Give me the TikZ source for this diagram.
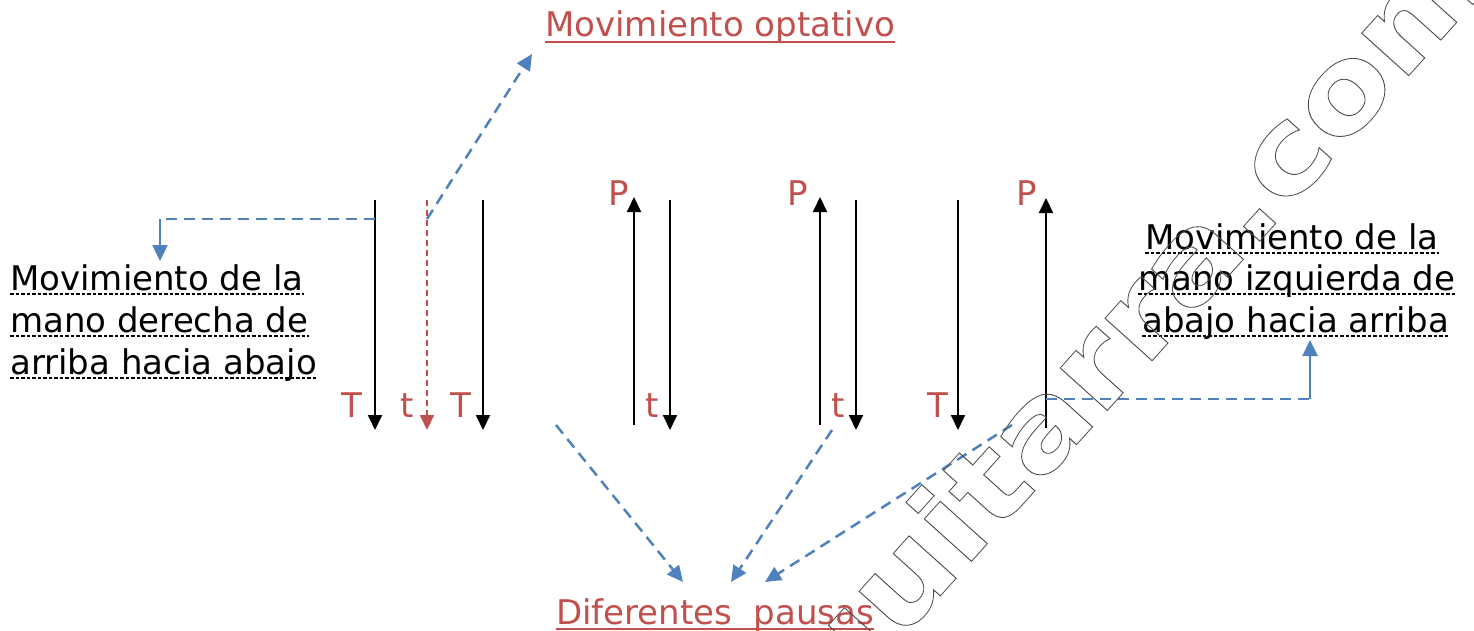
\documentclass[tikz,border=0pt]{standalone}
\usepackage{fontspec}
\setmainfont{DejaVu Sans}
\usetikzlibrary{arrows.meta,calc}
\definecolor{ored}{HTML}{C0504D}
\definecolor{oblue}{HTML}{4F81BD}
\begin{document}
\begin{tikzpicture}[x=1pt,y=-1pt,
  txt/.style={inner sep=0pt, font=\fontsize{34}{40}\selectfont},
  lbl/.style={txt, text=ored, anchor=base east},
  karrow/.style={line width=2pt, -{Triangle[width=14pt,length=15pt]}},
  rarrow/.style={ored, line width=2pt, dash pattern=on 6pt off 4pt, -{Triangle[width=14pt,length=15pt]}},
  bdash/.style={oblue, line width=2.5pt, dash pattern=on 11pt off 7pt},
  bsolid/.style={oblue, line width=2.5pt},
  btip/.style={-{Triangle[width=15pt,length=16pt]}},
  dotul/.style={line width=2pt, dash pattern=on 3.5pt off 2pt},
  redul/.style={ored, line width=2pt}]
\useasboundingbox (0,0) rectangle (1474,631);

% ---- coordinates of the strokes
\coordinate (d1t) at (375,200); \coordinate (d1b) at (375,430);
\coordinate (r1t) at (427,200); \coordinate (r1b) at (427,430);
\coordinate (d2t) at (483,200); \coordinate (d2b) at (483,430);
\coordinate (u1b) at (634,425); \coordinate (u1t) at (634,197);
\coordinate (d3t) at (670,200); \coordinate (d3b) at (670,430);
\coordinate (u2b) at (820,425); \coordinate (u2t) at (820,197);
\coordinate (d4t) at (856,200); \coordinate (d4b) at (856,430);
\coordinate (d5t) at (958,200); \coordinate (d5b) at (958,430);
\coordinate (u3b) at (1046,428); \coordinate (u3t) at (1046,198);

\draw[karrow] (d1t) -- (d1b);
\draw[rarrow] (r1t) -- (r1b);
\draw[karrow] (d2t) -- (d2b);
\draw[karrow] (u1b) -- (u1t);
\draw[karrow] (d3t) -- (d3b);
\draw[karrow] (u2b) -- (u2t);
\draw[karrow] (d4t) -- (d4b);
\draw[karrow] (d5t) -- (d5b);
\draw[karrow] (u3b) -- (u3t);

% ---- stroke labels
\node[lbl] (lT1) at (362,417) {T};
\node[lbl] (lt1) at (414,417) {t};
\node[lbl] (lT2) at (471,417) {T};
\node[lbl] (lP1) at (629,205) {P};
\node[lbl] (lt2) at (659,417) {t};
\node[lbl] (lP2) at (808,205) {P};
\node[lbl] (lt3) at (845,417) {t};
\node[lbl] (lT3) at (948,417) {T};
\node[lbl] (lP3) at (1037,205) {P};

% ---- left text
\node[txt, anchor=base west] (L1) at (10,290) {Movimiento de la};
\node[txt, anchor=base west] (L2) at (10,332) {mano derecha de};
\node[txt, anchor=base west] (L3) at (10,374) {arriba hacia abajo};
\foreach \n in {L1,L2,L3}
  \draw[dotul] ($(\n.base west)+(0,3.5)$) -- ($(\n.base east)+(0,3.5)$);

% ---- right text
\node[txt, anchor=base west] (R1) at (1145,249) {Movimiento de la};
\node[txt, anchor=base west] (R2) at (1138,290) {mano izquierda de};
\node[txt, anchor=base west] (R3) at (1142,332) {abajo hacia arriba};
\foreach \n in {R1,R2,R3}
  \draw[dotul] ($(\n.base west)+(0,3.5)$) -- ($(\n.base east)+(0,3.5)$);

% ---- red titles
\node[txt, text=ored, anchor=base west] (opt) at (545,37) {Movimiento optativo};
\draw[redul] ($(opt.base west)+(0,5)$) -- ($(opt.base east)+(0,5)$);
\node[txt, text=ored, anchor=base west] (pau) at (556,624) {Diferentes\ \ pausas};
\draw[redul] ($(pau.base west)+(0,5)$) -- ($(pau.base east)+(0,5)$);

% ---- blue connectors
\coordinate (cL0) at (375,219);
\coordinate (cL1) at (160,219);
\coordinate (cL2) at (160,261);
\draw[bdash] (cL0) -- (cL1);
\draw[bsolid, btip] (cL1) -- (cL2);

\coordinate (cO0) at (427,219);
\coordinate (cO1) at (532,54);
\draw[bdash, btip] (cO0) -- (cO1);

\coordinate (cP1s) at (556,425); \coordinate (cP1e) at (683,582);
\coordinate (cP2s) at (832,430); \coordinate (cP2e) at (731,582);
\coordinate (cP3s) at (1012,425); \coordinate (cP3e) at (765,582);
\draw[bdash, btip] (cP1s) -- (cP1e);
\draw[bdash, btip] (cP2s) -- (cP2e);
\draw[bdash, btip] (cP3s) -- (cP3e);

\coordinate (cR0) at (1046,399);
\coordinate (cR1) at (1310,399);
\coordinate (cR2) at (1310,340);
\draw[bdash] (cR0) -- (cR1);
\draw[bsolid, btip] (cR1) -- (cR2);

% ---- watermark
\begin{scope}
\clip (0,0) rectangle (1474,631);
\node[inner sep=0pt, anchor=base west, rotate=48, xscale=1.17, text=black!70,
      font=\fontsize{116}{116}\selectfont\bfseries] (wm) at (834,714)
  {\special{pdf:literal direct 1 Tr 0.8 w}guitarra.com\special{pdf:literal direct 0 Tr}};
\end{scope}
\end{tikzpicture}
\end{document}
